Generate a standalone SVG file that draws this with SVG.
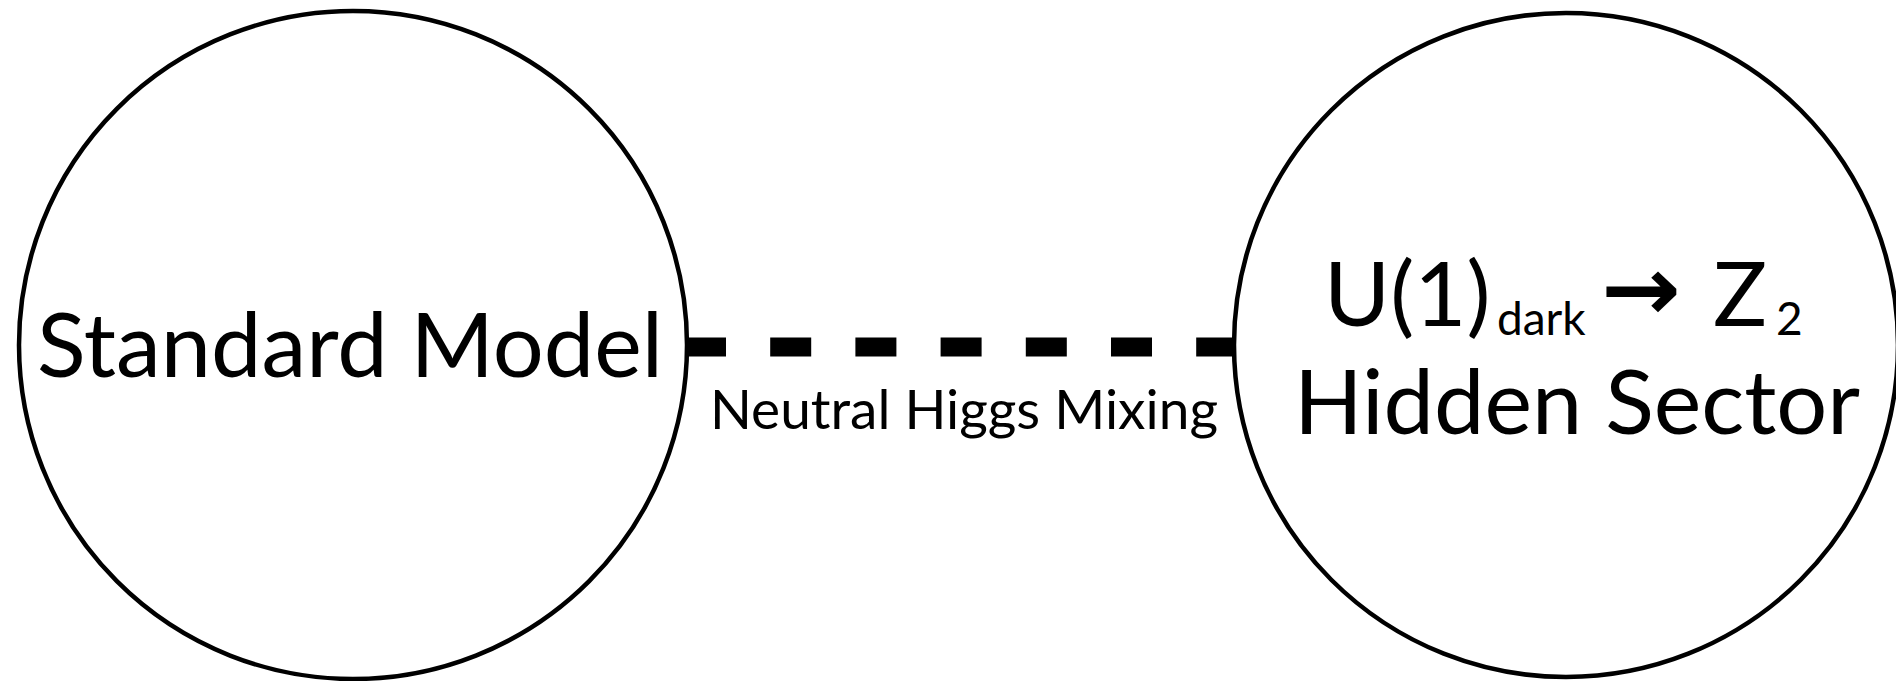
<svg xmlns="http://www.w3.org/2000/svg" width="1896" height="681" viewBox="0 0 1896 681">
  <style>
    .sector { fill: #fff; stroke: #000; stroke-width: 4.5; }
    .label { font-family: Lato, "Open Sans", "Liberation Sans", sans-serif; fill: #000; }
    .big { font-size: 90px; }
    .sub { font-size: 46px; }
    .link { stroke: #000; stroke-width: 19; stroke-dasharray: 41 44.2; fill: none; }
  </style>
  <rect width="1896" height="681" fill="#fff"/>

  <g id="connectors">
    <line class="link" x1="685" y1="347" x2="1237" y2="347"/>
    <text class="label" x="964" y="429" font-size="55" text-anchor="middle">Neutral Higgs Mixing</text>
  </g>

  <g id="standard-model">
    <circle class="sector" cx="353" cy="345" r="334"/>
    <text class="label big" x="350" y="377" text-anchor="middle">Standard Model</text>
  </g>

  <g id="hidden-sector">
    <circle class="sector" cx="1566" cy="345" r="332"/>
    <text class="label big" x="1324" y="326">U(1)</text>
    <text class="label sub" x="1497" y="335">dark</text>
    <text x="1601" y="320" font-family="DejaVu Sans, sans-serif" font-weight="bold" font-size="90" textLength="80" lengthAdjust="spacingAndGlyphs">→</text>
    <text class="label big" x="1713" y="326">Z</text>
    <text class="label sub" x="1776" y="335">2</text>
    <text class="label big" x="1577" y="434" font-size="89" text-anchor="middle">Hidden Sector</text>
  </g>
</svg>
